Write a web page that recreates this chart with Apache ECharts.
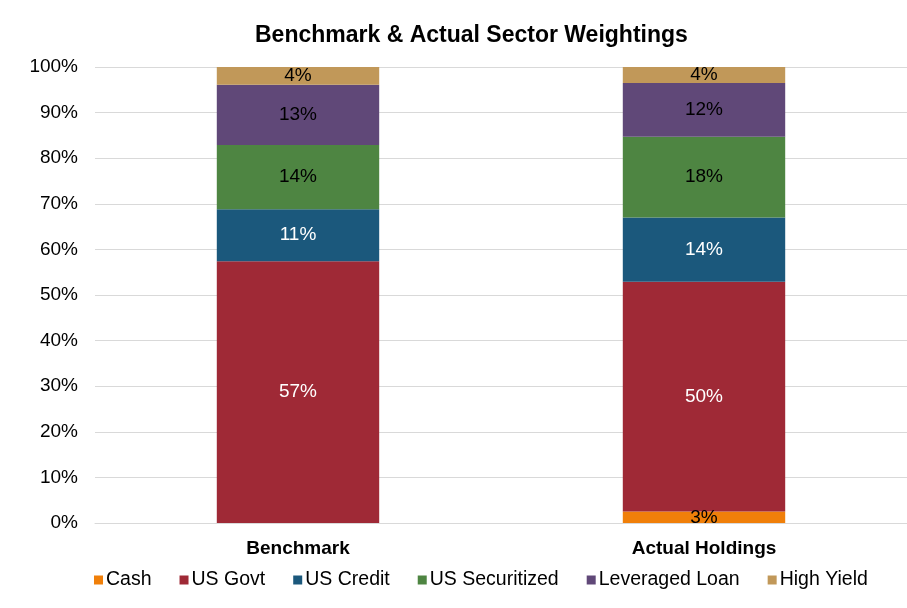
<!DOCTYPE html>
<html lang="en">
<head>
    <meta charset="UTF-8">
    <title>Sector Weightings</title>
    <script src="https://cdn.jsdelivr.net/npm/echarts@6/dist/echarts.min.js"></script>
    <style>
        html, body { margin: 0; padding: 0; background: #fff; }
        #chart1 { width: 907px; height: 608px; }
    </style>
</head>
<body>
<div id="chart1"></div>
<script type="text/javascript">
    // data (percent)
    var categories = ['Benchmark', 'Actual Holdings'];
    var sectors = ['Cash', 'US Govt', 'US Credit', 'US Securitized', 'Leveraged Loan', 'High Yield'];
    var cash = [0, 2.5];
    var usGovt = [57.4, 50.4];
    var usCredit = [11.4, 14.1];
    var usSecuritized = [14.1, 17.7];
    var leveragedLoan = [13.2, 11.8];
    var highYield = [3.9, 3.5];
    var yTicks = [0, 10, 20, 30, 40, 50, 60, 70, 80, 90, 100];

    var colors = ['#F07F09', '#9F2936', '#1B587C', '#4E8542', '#604878', '#C19859'];
    var labelColors = ['#000', '#fff', '#fff', '#000', '#000', '#000'];
    var values = [cash, usGovt, usCredit, usSecuritized, leveragedLoan, highYield];

    var series = sectors.map(function (name, i) {
        return {
            name: name,
            type: 'bar',
            stack: 'total',
            barWidth: '40%',
            data: values[i],
            itemStyle: { color: colors[i] },
            label: {
                show: true,
                position: 'inside',
                color: labelColors[i],
                fontFamily: 'Liberation Sans',
                fontSize: 19,
                formatter: function (p) {
                    return p.value > 0 ? Math.round(p.value) + '%' : '';
                }
            }
        };
    });

    var myChart1 = echarts.init(document.getElementById('chart1'));
    myChart1.setOption({
        animation: false,
        textStyle: { fontFamily: 'Liberation Sans' },
        title: {
            text: 'Benchmark & Actual Sector Weightings',
            left: 250,
            top: 19,
            textStyle: { fontSize: 23, fontWeight: 'bold', color: '#000', fontFamily: 'Liberation Sans' }
        },
        legend: {
            data: sectors,
            bottom: 13,
            left: 89,
            itemWidth: 9,
            itemHeight: 9,
            itemGap: 28,
            icon: 'rect',
            textStyle: { fontSize: 19.5, color: '#000', fontFamily: 'Liberation Sans', padding: [0, 0, 0, -2] }
        },
        grid: { left: 95, right: 0, top: 67, bottom: 85 },
        xAxis: {
            type: 'category',
            data: categories,
            axisTick: { show: false },
            axisLine: { lineStyle: { color: '#d9d9d9' } },
            axisLabel: { fontSize: 19, fontWeight: 'bold', color: '#000', margin: 16 }
        },
        yAxis: {
            type: 'value',
            min: yTicks[0],
            max: yTicks[yTicks.length - 1],
            interval: 10,
            axisLine: { show: false },
            axisTick: { show: false },
            splitLine: { lineStyle: { color: '#d9d9d9' } },
            axisLabel: { fontSize: 19, color: '#000', margin: 17, formatter: '{value}%' }
        },
        series: series
    });
</script>
</body>
</html>
